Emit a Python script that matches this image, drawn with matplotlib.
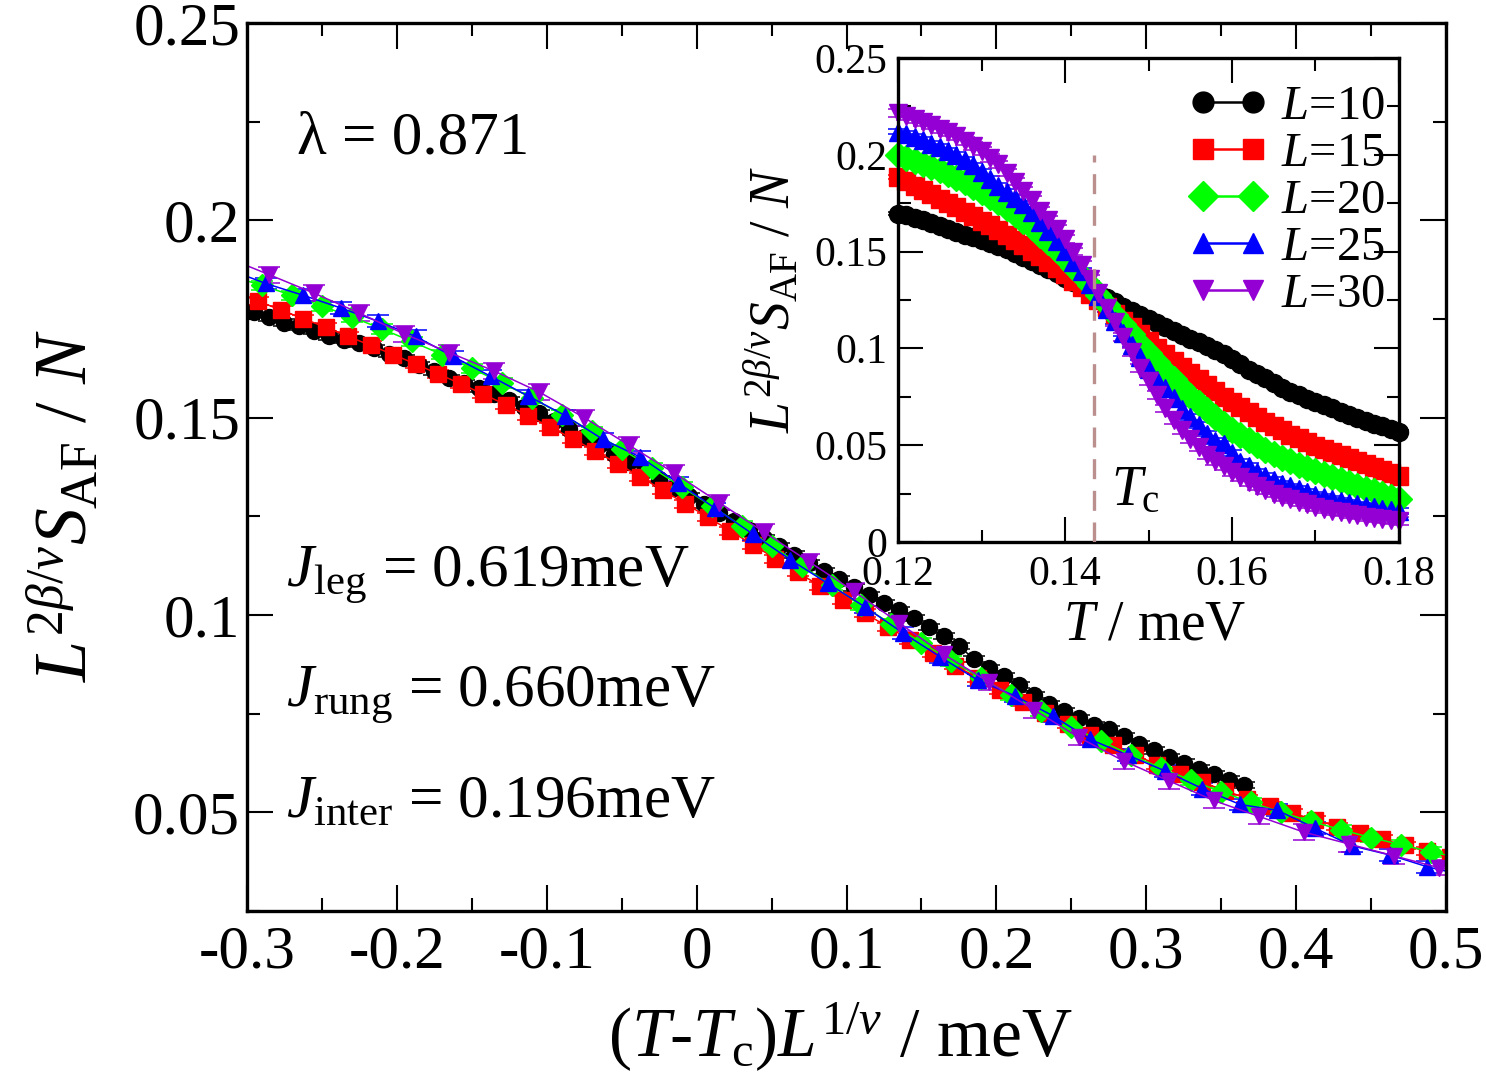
import numpy as np
import matplotlib
matplotlib.use('Agg')
import matplotlib.pyplot as plt
from matplotlib.lines import Line2D
from matplotlib.ticker import MultipleLocator, FuncFormatter

# critical temperature / exponent used for the collapse
TC = 0.1435
NU = 1.0

SIZES = [10, 15, 20, 25, 30]
LABELS = ['$L$=10', '$L$=15', '$L$=20', '$L$=25', '$L$=30']
COLORS = ['#000000', '#ff0000', '#00ff00', '#0000ff', '#9400d3']
MARKERS = ['o', 's', 'D', '^', 'v']
ERR = [0.0008, 0.0010, 0.0012, 0.0015, 0.0020]

# temperature grids (meV)
T10 = np.linspace(0.113, 0.180, 68)
T_GRID = np.linspace(0.120, 0.180, 61)

# L^(2b/v) S_AF / N for each L
S10 = [0.1778, 0.1768, 0.1754, 0.1741, 0.1731, 0.1719, 0.1706, 0.1696, 0.1688, 0.1676,
       0.1661, 0.1650, 0.1634, 0.1617, 0.1601, 0.1588, 0.1574, 0.1560, 0.1544, 0.1528,
       0.1511, 0.1492, 0.1472, 0.1451, 0.1430, 0.1409, 0.1387, 0.1366, 0.1344, 0.1323,
       0.1301, 0.1280, 0.1259, 0.1238, 0.1216, 0.1195, 0.1174, 0.1153, 0.1132, 0.1111,
       0.1090, 0.1070, 0.1050, 0.1031, 0.1012, 0.0993, 0.0969, 0.0946, 0.0921, 0.0889,
       0.0866, 0.0845, 0.0822, 0.0797, 0.0775, 0.0757, 0.0738, 0.0722, 0.0710, 0.0693,
       0.0674, 0.0657, 0.0640, 0.0626, 0.0611, 0.0597, 0.0583, 0.0569]
S15 = [0.1885, 0.1863, 0.1840, 0.1817, 0.1795, 0.1773, 0.1751, 0.1729, 0.1706, 0.1683,
       0.1660, 0.1636, 0.1611, 0.1586, 0.1560, 0.1533, 0.1505, 0.1476, 0.1446, 0.1415,
       0.1383, 0.1350, 0.1316, 0.1282, 0.1248, 0.1213, 0.1178, 0.1143, 0.1108, 0.1073,
       0.1038, 0.1004, 0.0970, 0.0937, 0.0904, 0.0872, 0.0841, 0.0810, 0.0780, 0.0751,
       0.0723, 0.0696, 0.0670, 0.0645, 0.0621, 0.0598, 0.0576, 0.0555, 0.0535, 0.0516,
       0.0498, 0.0481, 0.0464, 0.0448, 0.0432, 0.0416, 0.0401, 0.0386, 0.0371, 0.0356,
       0.0341]
S20 = [0.1999, 0.1985, 0.1970, 0.1954, 0.1937, 0.1919, 0.1900, 0.1880, 0.1858, 0.1835,
       0.1810, 0.1783, 0.1755, 0.1725, 0.1693, 0.1660, 0.1625, 0.1588, 0.1550, 0.1508,
       0.1465, 0.1420, 0.1373, 0.1325, 0.1276, 0.1226, 0.1175, 0.1125, 0.1075, 0.1025,
       0.0977, 0.0930, 0.0884, 0.0840, 0.0797, 0.0756, 0.0717, 0.0680, 0.0645, 0.0612,
       0.0581, 0.0552, 0.0525, 0.0500, 0.0477, 0.0456, 0.0436, 0.0418, 0.0400, 0.0384,
       0.0366, 0.0350, 0.0335, 0.0320, 0.0305, 0.0290, 0.0275, 0.0261, 0.0247, 0.0234,
       0.0221]
S25 = [0.2120, 0.2106, 0.2091, 0.2075, 0.2058, 0.2040, 0.2020, 0.1998, 0.1975, 0.1945,
       0.1912, 0.1876, 0.1840, 0.1810, 0.1778, 0.1744, 0.1706, 0.1655, 0.1605, 0.1555,
       0.1505, 0.1445, 0.1400, 0.1335, 0.1270, 0.1205, 0.1140, 0.1080, 0.1020, 0.0955,
       0.0894, 0.0835, 0.0795, 0.0745, 0.0685, 0.0645, 0.0605, 0.0560, 0.0520, 0.0505,
       0.0460, 0.0415, 0.0392, 0.0362, 0.0340, 0.0320, 0.0302, 0.0287, 0.0272, 0.0258,
       0.0245, 0.0233, 0.0222, 0.0212, 0.0203, 0.0194, 0.0186, 0.0179, 0.0172, 0.0166,
       0.0160]
S30 = [0.2215, 0.2200, 0.2185, 0.2170, 0.2153, 0.2135, 0.2116, 0.2095, 0.2072, 0.2047,
       0.2020, 0.1985, 0.1950, 0.1908, 0.1862, 0.1815, 0.1765, 0.1712, 0.1665, 0.1618,
       0.1565, 0.1500, 0.1430, 0.1360, 0.1285, 0.1210, 0.1135, 0.1060, 0.0980, 0.0900,
       0.0830, 0.0760, 0.0690, 0.0630, 0.0580, 0.0530, 0.0490, 0.0450, 0.0420, 0.0390,
       0.0360, 0.0335, 0.0310, 0.0288, 0.0268, 0.0250, 0.0234, 0.0220, 0.0206, 0.0194,
       0.0182, 0.0172, 0.0162, 0.0153, 0.0145, 0.0138, 0.0131, 0.0125, 0.0119, 0.0114,
       0.0110]

TEMPS = [T10, T_GRID, T_GRID, T_GRID, T_GRID]
VALUES = [S10, S15, S20, S25, S30]


def fmt(v, pos):
    return '%g' % round(v, 4)


def style_axis(ax, major_len, minor_len, size, pad):
    ax.tick_params(which='both', direction='in', top=True, right=True, width=1.5,
                   labelsize=size, pad=pad)
    ax.tick_params(which='major', length=major_len)
    ax.tick_params(which='minor', length=minor_len)
    for sp in ax.spines.values():
        sp.set_linewidth(2.4)
    ax.xaxis.set_major_formatter(FuncFormatter(fmt))
    ax.yaxis.set_major_formatter(FuncFormatter(fmt))


def draw_series(ax, x, y, i, ms, cap, noclip=False):
    eb = ax.errorbar(x, y, yerr=ERR[i], color=COLORS[i], marker=MARKERS[i], ms=ms,
                     mfc=COLORS[i], mec=COLORS[i], lw=1.1, elinewidth=1.1,
                     capsize=cap, capthick=1.1)
    if noclip:
        for art in eb.get_children():
            art.set_clip_on(False)
    return eb


def collapse_plot():
    plt.rcParams['font.family'] = 'serif'
    plt.rcParams['font.serif'] = ['Liberation Serif', 'DejaVu Serif']
    plt.rcParams['mathtext.fontset'] = 'custom'
    plt.rcParams['mathtext.rm'] = 'Liberation Serif'
    plt.rcParams['mathtext.it'] = 'Liberation Serif:italic'
    plt.rcParams['mathtext.bf'] = 'Liberation Serif:bold'
    plt.rcParams['axes.unicode_minus'] = False

    fig = plt.figure(figsize=(14.86, 10.88), dpi=100)
    W, H = 1486.0, 1088.0

    # main axes: scaling collapse
    ax = fig.add_axes([247 / W, 1 - 911 / H, 1199 / W, 888 / H])
    for i, L in enumerate(SIZES):
        T = np.asarray(TEMPS[i])
        x = (T - TC) * L ** (1.0 / NU)
        draw_series(ax, x, VALUES[i], i, ms=11.5, cap=8)
    ax.set_xlim(-0.3, 0.5)
    ax.set_ylim(0.025, 0.25)
    ax.xaxis.set_major_locator(MultipleLocator(0.1))
    ax.xaxis.set_minor_locator(MultipleLocator(0.05))
    ax.yaxis.set_major_locator(MultipleLocator(0.05))
    ax.yaxis.set_minor_locator(MultipleLocator(0.025))
    style_axis(ax, 19, 9.5, 44, 10)
    ax.tick_params(axis='y', pad=5)

    fig.text(840 / W, 1 - 1057 / H, r'$(T$-$T_{\mathrm{c}})L^{1/\nu}$ / meV',
             fontsize=50, ha='center', va='baseline')
    fig.text(65 / W, 1 - 505 / H, r'$L^{2\beta/\nu}S_{\mathrm{AF}}$ / $N$',
             fontsize=53, ha='center', va='center', rotation=90)

    fig.text(297 / W, 1 - 153 / H, 'λ = 0.871', fontsize=44, va='baseline')
    fig.text(286 / W, 1 - 587 / H, r'$J_{\mathrm{leg}}$ = 0.619meV', fontsize=44, va='baseline')
    fig.text(286 / W, 1 - 707 / H, r'$J_{\mathrm{rung}}$ = 0.660meV', fontsize=44, va='baseline')
    fig.text(286 / W, 1 - 817 / H, r'$J_{\mathrm{inter}}$ = 0.196meV', fontsize=44, va='baseline')

    # inset: raw curves vs temperature
    ins = fig.add_axes([898 / W, 1 - 542 / H, 501 / W, 484 / H])
    ins.set_facecolor('white')
    for i, L in enumerate(SIZES):
        T = np.asarray(TEMPS[i])
        y = np.asarray(VALUES[i])
        keep = (T >= 0.1199) & (T <= 0.1801)
        draw_series(ins, T[keep], y[keep], i, ms=13, cap=7, noclip=True)
    ins.plot([TC, TC], [0.0, 0.2], color='#bc8f8f', lw=2.4, dashes=(6, 3.5), zorder=10)
    ins.set_xlim(0.12, 0.18)
    ins.set_ylim(0.0, 0.25)
    ins.xaxis.set_major_locator(MultipleLocator(0.02))
    ins.xaxis.set_minor_locator(MultipleLocator(0.01))
    ins.yaxis.set_major_locator(MultipleLocator(0.05))
    ins.yaxis.set_minor_locator(MultipleLocator(0.025))
    style_axis(ins, 18, 9, 30, 10)
    ins.tick_params(axis='y', pad=8)

    fig.text(1155 / W, 1 - 640 / H, r'$T$ / meV', fontsize=40, ha='center', va='baseline')
    fig.text(772 / W, 1 - 300 / H, r'$L^{2\beta/\nu}S_{\mathrm{AF}}$ / $N$',
             fontsize=40, ha='center', va='center', rotation=90)
    fig.text(1111 / W, 1 - 505 / H, r'$T_{\mathrm{c}}$', fontsize=40, va='baseline')

    # legend: line with a marker at each end
    handles = [Line2D([], [], color=COLORS[i], marker=MARKERS[i], ms=15, lw=1.8,
                      mfc=COLORS[i], mec=COLORS[i]) for i in range(len(SIZES))]
    ins.legend(handles, LABELS, loc='upper right', bbox_to_anchor=(1.01, 0.984),
               frameon=False, numpoints=2, fontsize=35, handlelength=1.63,
               handletextpad=0.27, labelspacing=0.06, borderaxespad=0.0)

    fig.savefig('out.png', dpi=100)


if __name__ == '__main__':
    collapse_plot()
